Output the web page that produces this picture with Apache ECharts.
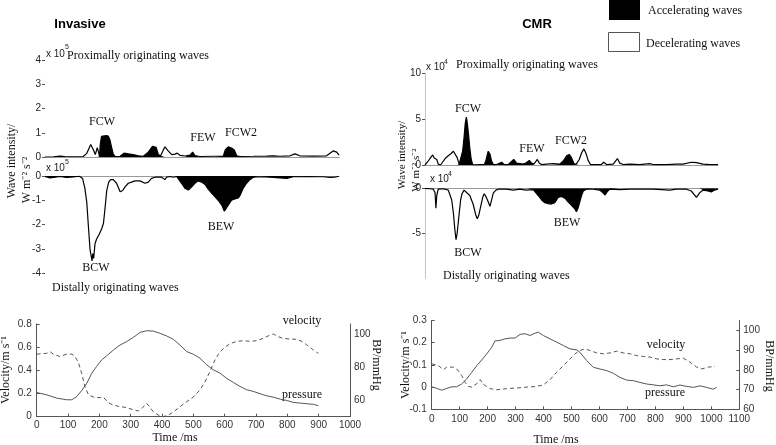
<!DOCTYPE html>
<html><head><meta charset="utf-8">
<script src="https://cdn.jsdelivr.net/npm/echarts@6/dist/echarts.min.js"></script>
<style>html,body{margin:0;padding:0;background:#fff}#c{width:776px;height:445px}</style>
</head><body><div id="c"></div><script>
// ---------- Invasive: proximally originating (x10^5 W m-2 s-2) ----------
const invProxT = [0,26,46,61,87,117,128,140,148,154,160,164,167,169,173,179,187,194,199,203,209,215,230,242,255,270,286,301,316,329,340,347,354,367,377,388,398,405,413,428,444,452,459,474,515,546,552,561,571,579,587,597,638,678,699,719,750,765,780,821,862,882,893,900];
const invProxV = [0,0.01,0.04,0.02,0.01,0.02,0.15,0.52,0.3,0.1,0.38,0.2,0.02,0.5,0.85,0.92,0.88,0.86,0.7,0.45,0.12,0.02,0.03,0.16,0.13,0.1,0.05,0.03,0.2,0.44,0.4,0.1,0.05,0.42,0.25,0.1,0.12,0.16,0.07,0.04,0.08,0.2,0.06,0.02,0.03,0.04,0.3,0.42,0.37,0.3,0.05,0.02,0.03,0.04,0.05,0.03,0.05,0.13,0.05,0.04,0.05,0.25,0.2,0.08];
const invProxAcc = [[167,354],[444,459],[546,597]];
// ---------- Invasive: distally originating ----------
const invDistT = [0,15,31,46,66,87,105,115,122,128,133,138,144,146,149,153,158,166,173,179,184,189,195,201,209,219,230,238,245,255,265,275,291,306,316,326,337,347,357,367,372,383,393,403,408,418,428,439,449,459,469,479,490,500,510,520,530,541,549,554,561,571,581,592,597,607,617,627,638,658,689,719,740,760,801,852,872,887,900];
const invDistV = [-0.02,-0.08,-0.05,-0.02,-0.06,-0.04,-0.01,-0.1,-0.5,-1.1,-2.1,-3.05,-3.5,-3.2,-3.4,-2.8,-2.6,-2.4,-2.2,-1.95,-1.3,-0.6,-0.25,-0.15,-0.15,-0.3,-0.65,-0.6,-0.45,-0.3,-0.25,-0.2,-0.2,-0.3,-0.25,-0.1,-0.05,-0.05,-0.05,-0.15,-0.05,-0.02,-0.05,-0.02,-0.1,-0.3,-0.5,-0.58,-0.45,-0.3,-0.2,-0.25,-0.35,-0.55,-0.7,-0.85,-1.0,-1.2,-1.45,-1.52,-1.2,-1.0,-0.95,-0.9,-0.8,-0.5,-0.3,-0.15,-0.05,-0.03,-0.05,-0.08,-0.1,-0.03,-0.02,-0.03,-0.06,-0.05,-0.01];
const invDistAcc = [[0,105],[403,638],[689,760]];
// ---------- CMR: proximally originating (x10^4) ----------
const cmrProxT = [0,8,15,21,27,31,36,41,46,54,61,70,75,81,89,99,105,112,119,124,131,136,140,144,147,152,156,161,166,174,191,207,212,220,226,232,238,249,267,275,290,309,319,325,342,353,363,371,379,391,398,406,423,446,469,483,493,502,510,518,525,537,545,553,560,568,576,585,614,622,632,655,670,678,690,713,748,782,794,840,875,898,927,945,968,991,1020];
const cmrProxV = [0,0.3,0.6,0.5,1.1,0.8,1.0,0.6,0.1,0.0,0.3,0.7,0.8,1.0,1.2,1.5,1.3,0.8,0.1,0.3,1.5,3.0,4.5,5.2,4.6,3.2,1.8,0.6,0.05,0.02,0.05,0.05,0.5,1.5,1.2,0.4,0.05,0.05,0.3,0.05,0.05,0.6,0.2,0.05,0.1,0.25,0.5,0.2,0.1,0.6,0.2,0.05,0.1,0.15,0.1,0.5,1.0,1.15,0.8,0.2,0.05,0.6,1.3,1.75,1.3,0.5,0.05,0.05,0.05,0.3,0.05,0.1,0.7,0.2,0.05,0.1,0.05,0.15,0.05,0.05,0.1,0.1,0.3,0.25,0.1,0.05,0.05];
const cmrProxAcc = [[119,166],[207,238],[260,275],[290,325],[342,371],[469,525]];
// ---------- CMR: distally originating ----------
const cmrDistT = [0,17,29,35,38,41,46,64,81,93,99,104,108,112,119,124,129,136,156,168,177,182,187,194,201,206,212,220,226,231,238,247,255,284,307,330,353,377,382,394,406,417,429,440,452,464,475,487,498,510,522,527,533,539,545,551,562,585,608,620,627,634,643,678,713,748,794,852,875,910,927,945,956,968,985,997,1008,1020];
const cmrDistV = [0,-0.05,-0.1,-0.5,-2.2,-0.8,-0.1,-0.05,-0.2,-1.3,-2.8,-4.6,-5.7,-5.0,-2.8,-1.3,-0.6,-0.2,-0.8,-1.8,-3.0,-3.4,-3.0,-2.0,-1.0,-0.6,-0.9,-1.5,-2.0,-1.4,-0.5,-0.2,-0.1,-0.1,-0.2,-0.1,-0.2,-0.15,-0.2,-0.8,-1.3,-1.6,-1.7,-1.75,-1.6,-1.0,-0.9,-1.1,-1.5,-1.9,-2.3,-2.6,-2.2,-1.5,-0.8,-0.3,-0.1,-0.1,-0.2,-0.5,-0.75,-0.4,-0.1,-0.15,-0.1,-0.1,-0.1,-0.2,-0.1,-0.1,-0.3,-1.0,-0.5,-0.2,-0.3,-0.4,-0.2,-0.1];
const cmrDistAcc = [[377,562],[608,643],[968,1008]];
// ---------- Invasive: velocity (m/s) and pressure (mmHg) ----------
const invVelT = [0,32,43,53,74,96,112,122,133,144,154,165,181,202,213,229,245,266,287,309,324,335,351,362,372,388,404,420,436,457,479,500,521,537,553,569,585,601,617,638,660,681,702,723,745,755,771,787,809,830,846,862,883,899];
const invVel = [0.54,0.547,0.56,0.54,0.52,0.54,0.54,0.52,0.47,0.37,0.26,0.19,0.17,0.164,0.167,0.12,0.10,0.086,0.08,0.058,0.05,0.07,0.115,0.08,0.043,0.014,0.0,0.014,0.04,0.086,0.13,0.17,0.23,0.30,0.39,0.49,0.56,0.60,0.63,0.65,0.656,0.65,0.656,0.676,0.705,0.714,0.69,0.676,0.67,0.668,0.65,0.62,0.576,0.547];
const invPresT = [0,32,64,96,112,128,144,160,176,191,207,223,245,266,287,309,330,351,372,394,415,436,457,479,500,521,543,564,585,606,628,649,670,691,713,734,755,777,798,819,840,862,883,899];
const invPres = [64.7,63.3,61.3,60.3,60.3,62.3,66,70.4,76.5,80.5,84.5,87,90.6,93.6,95.7,98.3,101.3,102.3,102.1,100.7,99.1,97.1,93.6,89.6,88,85.6,81.5,78.5,76.5,73.4,70.8,68.4,66.4,65.4,64,62.7,61.9,60.7,59.9,58.7,58.3,57.9,57.5,56.7];
// ---------- CMR: velocity and pressure ----------
const cmrVelT = [0,24,42,54,77,95,107,119,131,143,161,173,185,209,232,268,304,340,375,399,423,447,471,495,513,530,548,566,590,614,638,662,685,709,733,757,781,805,828,852,876,900,924,948,966,989,1013];
const cmrVel = [0.105,0.097,0.078,0.09,0.09,0.075,0.052,0.022,0.003,0,0.015,0.034,0.012,-0.007,-0.012,-0.007,-0.004,0,0.003,0.01,0.033,0.067,0.097,0.127,0.15,0.165,0.172,0.165,0.154,0.15,0.154,0.162,0.154,0.15,0.142,0.138,0.135,0.127,0.124,0.124,0.127,0.13,0.112,0.09,0.082,0.09,0.093];
const cmrPresT = [0,18,36,54,72,89,107,125,143,161,179,197,215,226,244,262,280,298,316,334,352,370,381,399,423,447,471,495,519,530,554,578,602,626,650,673,697,721,745,769,793,816,840,864,888,912,936,959,983,1007,1019];
const cmrPres = [71.4,70.6,69.7,70.6,71.4,71.4,72.8,75.3,78.7,82.1,85,88.1,91.5,94.6,94.9,95.7,96.1,96.1,98,98.3,97.4,98.6,99.1,97.4,95.7,94,92.3,90.6,90.1,88.9,84.7,81.3,80.4,79.6,78.2,76.2,74.8,74.5,73.6,72.8,72.4,71.9,72.4,71.4,72.3,71.6,71.1,71.9,71.1,70.2,71.1];
// ---------- tick labels shown on the invasive BP axis ----------
const invBPTicks = [60, 80, 100];

const SERIF = '"Liberation Serif", "Times New Roman", serif';
const SANS = '"Liberation Sans", Arial, sans-serif';
function zip(t, v) { return t.map((x, i) => [x, v[i]]); }
function accel(t, v, ranges) { return t.map((x, i) => [x, ranges.some(r => x >= r[0] && x <= r[1]) ? v[i] : 0]); }
const plain = v => String(Math.round(v * 1000) / 1000);

const chart = echarts.init(document.getElementById('c'), null, {renderer: 'canvas'});

const waveX = (gi, max) => ({
  type: 'value', gridIndex: gi, min: 0, max: max, show: true,
  axisLine: {show: true, onZero: true, lineStyle: {color: '#9a9a9a', width: 1}},
  axisTick: {show: false}, axisLabel: {show: false}, splitLine: {show: false}
});
const waveY = (gi, min, max, interval, lineShow, extraLabel) => ({
  type: 'value', gridIndex: gi, min: min, max: max, interval: interval,
  axisLine: {show: lineShow, lineStyle: {color: '#c4c4c4'}},
  axisTick: {show: true, length: 3, lineStyle: {color: '#555'}},
  axisLabel: Object.assign({color: '#222', fontSize: 10, fontFamily: SANS, margin: 4, formatter: plain}, extraLabel || {}),
  splitLine: {show: false}
});
const fillSeries = (i, t, v, r) => ({
  type: 'line', xAxisIndex: i, yAxisIndex: i, data: accel(t, v, r), symbol: 'none',
  lineStyle: {width: 0}, areaStyle: {color: '#000', opacity: 1}, silent: true, z: 2
});
const curveSeries = (i, t, v) => ({
  type: 'line', xAxisIndex: i, yAxisIndex: i, data: zip(t, v), symbol: 'none',
  lineStyle: {color: '#000', width: 1.2}, silent: true, z: 3
});
const botAxisStyle = {
  axisLine: {show: true, onZero: false, lineStyle: {color: '#555'}},
  axisTick: {show: true, inside: true, length: 3, lineStyle: {color: '#555'}},
  splitLine: {show: false}
};
const botLabel = {color: '#333', fontSize: 10, fontFamily: SANS, formatter: plain};

const txt = (text, x, y, opt) => ({
  type: 'text', x: x, y: y, rotation: (opt && opt.rot) || 0, silent: true,
  style: Object.assign({text: text, fill: '#111', font: '12px ' + SERIF, textAlign: 'center', textVerticalAlign: 'middle'}, (opt && opt.style) || {})
});

chart.setOption({
  animation: false,
  backgroundColor: '#fff',
  grid: [
    {left: 45, right: 437, top: 60, bottom: 288},
    {left: 45, right: 437, top: 176, bottom: 172},
    {left: 425, right: 58, top: 73, bottom: 280},
    {left: 425, right: 58, top: 188.3, bottom: 166.7},
    {left: 36.7, right: 426, top: 324, bottom: 28.3},
    {left: 431.7, right: 36.7, top: 320.5, bottom: 35.7}
  ],
  xAxis: [
    waveX(0, 900), waveX(1, 900), waveX(2, 1020), waveX(3, 1020),
    Object.assign({type: 'value', gridIndex: 4, min: 0, max: 1000, interval: 100, axisLabel: Object.assign({}, botLabel, {margin: 4})}, botAxisStyle),
    Object.assign({type: 'value', gridIndex: 5, min: 0, max: 1100, interval: 100, axisLabel: Object.assign({}, botLabel, {margin: 5})}, botAxisStyle)
  ],
  yAxis: [
    waveY(0, 0, 4, 1, false),
    waveY(1, -4, 0, 1, false),
    waveY(2, 0, 10, 5, true),
    waveY(3, -10, 0, 5, true, {showMinLabel: false}),
    Object.assign({type: 'value', gridIndex: 4, min: 0, max: 0.8, interval: 0.2, position: 'left', axisLabel: Object.assign({}, botLabel, {margin: 5})}, botAxisStyle),
    Object.assign({type: 'value', gridIndex: 4, min: 50, max: 106.4, interval: 10, position: 'right',
      axisLabel: Object.assign({}, botLabel, {margin: 4, showMaxLabel: false, showMinLabel: false,
        formatter: v => invBPTicks.indexOf(Math.round(v)) >= 0 && Math.abs(v - Math.round(v)) < 1e-6 ? String(Math.round(v)) : ''})},
      botAxisStyle, {axisTick: {show: false}}),
    Object.assign({type: 'value', gridIndex: 5, min: -0.1, max: 0.3, interval: 0.1, position: 'left', axisLabel: Object.assign({}, botLabel, {margin: 5})}, botAxisStyle),
    Object.assign({type: 'value', gridIndex: 5, min: 60, max: 105, interval: 10, position: 'right', axisLabel: Object.assign({}, botLabel, {margin: 4, showMaxLabel: false})}, botAxisStyle)
  ],
  series: [
    fillSeries(0, invProxT, invProxV, invProxAcc), curveSeries(0, invProxT, invProxV),
    fillSeries(1, invDistT, invDistV, invDistAcc), curveSeries(1, invDistT, invDistV),
    fillSeries(2, cmrProxT, cmrProxV, cmrProxAcc), curveSeries(2, cmrProxT, cmrProxV),
    fillSeries(3, cmrDistT, cmrDistV, cmrDistAcc), curveSeries(3, cmrDistT, cmrDistV),
    {type: 'line', name: 'velocity', xAxisIndex: 4, yAxisIndex: 4, data: zip(invVelT, invVel), symbol: 'none', lineStyle: {color: '#555', width: 1, type: [4, 3]}},
    {type: 'line', name: 'pressure', xAxisIndex: 4, yAxisIndex: 5, data: zip(invPresT, invPres), symbol: 'none', lineStyle: {color: '#555', width: 1}},
    {type: 'line', name: 'velocity', xAxisIndex: 5, yAxisIndex: 6, data: zip(cmrVelT, cmrVel), symbol: 'none', lineStyle: {color: '#555', width: 1, type: [4, 3]}},
    {type: 'line', name: 'pressure', xAxisIndex: 5, yAxisIndex: 7, data: zip(cmrPresT, cmrPres), symbol: 'none', lineStyle: {color: '#555', width: 1}}
  ],
  graphic: [
    txt('Invasive', 80, 24, {style: {font: 'bold 13px ' + SANS, fill: '#000'}}),
    txt('CMR', 537, 24, {style: {font: 'bold 13px ' + SANS, fill: '#000'}}),
    {type: 'rect', shape: {x: 609, y: 0, width: 31, height: 20}, style: {fill: '#000'}, silent: true},
    txt('Accelerating waves', 648, 11, {style: {textAlign: 'left'}}),
    {type: 'rect', shape: {x: 608.5, y: 32.5, width: 31, height: 19}, style: {fill: '#fff', stroke: '#555', lineWidth: 1}, silent: true},
    txt('Decelerating waves', 646, 44, {style: {textAlign: 'left'}}),
    // exponents
    txt('x 10', 46, 54, {style: {textAlign: 'left', font: '10px ' + SANS, fill: '#222'}}),
    txt('5', 65, 47, {style: {textAlign: 'left', font: '7px ' + SANS, fill: '#222'}}),
    txt('x 10', 46, 168, {style: {textAlign: 'left', font: '10px ' + SANS, fill: '#222'}}),
    txt('5', 65, 162, {style: {textAlign: 'left', font: '7px ' + SANS, fill: '#222'}}),
    txt('x 10', 426, 67, {style: {textAlign: 'left', font: '10px ' + SANS, fill: '#222'}}),
    txt('4', 444, 62, {style: {textAlign: 'left', font: '7px ' + SANS, fill: '#222'}}),
    txt('x 10', 430, 179, {style: {textAlign: 'left', font: '10px ' + SANS, fill: '#222'}}),
    txt('4', 448, 174, {style: {textAlign: 'left', font: '7px ' + SANS, fill: '#222'}}),
    // panel texts
    txt('Proximally originating waves', 67, 56, {style: {textAlign: 'left'}}),
    txt('Distally originating waves', 52, 288, {style: {textAlign: 'left'}}),
    txt('Proximally originating waves', 456, 65, {style: {textAlign: 'left'}}),
    txt('Distally originating waves', 443, 276, {style: {textAlign: 'left'}}),
    txt('FCW', 102, 122), txt('FEW', 203, 138), txt('FCW2', 241, 133), txt('BCW', 96, 268), txt('BEW', 221, 227),
    txt('FCW', 468, 109), txt('FEW', 532, 149), txt('FCW2', 571, 141), txt('BCW', 468, 253), txt('BEW', 567, 223),
    // axis titles
    txt('Wave intensity/', 12, 161, {rot: Math.PI / 2}),
    txt('W m\u207B\u00B2 s\u207B\u00B2', 27, 180, {rot: Math.PI / 2}),
    txt('Wave intensity/', 402, 155, {rot: Math.PI / 2, style: {font: '11px ' + SERIF}}),
    txt('W m\u207B\u00B2 s\u207B\u00B2', 416, 170, {rot: Math.PI / 2, style: {font: '11px ' + SERIF}}),
    txt('Velocity/m s\u207B\u00B9', 6, 370, {rot: Math.PI / 2}),
    txt('BP/mmHg', 376, 365, {rot: -Math.PI / 2}),
    txt('Velocity/m s\u207B\u00B9', 406, 365, {rot: Math.PI / 2}),
    txt('BP/mmHg', 769, 366, {rot: -Math.PI / 2}),
    txt('Time /ms', 175, 438),
    txt('Time /ms', 556, 440),
    txt('velocity', 302, 321), txt('pressure', 302, 395),
    txt('velocity', 666, 345), txt('pressure', 665, 393)
  ]
});
</script></body></html>
